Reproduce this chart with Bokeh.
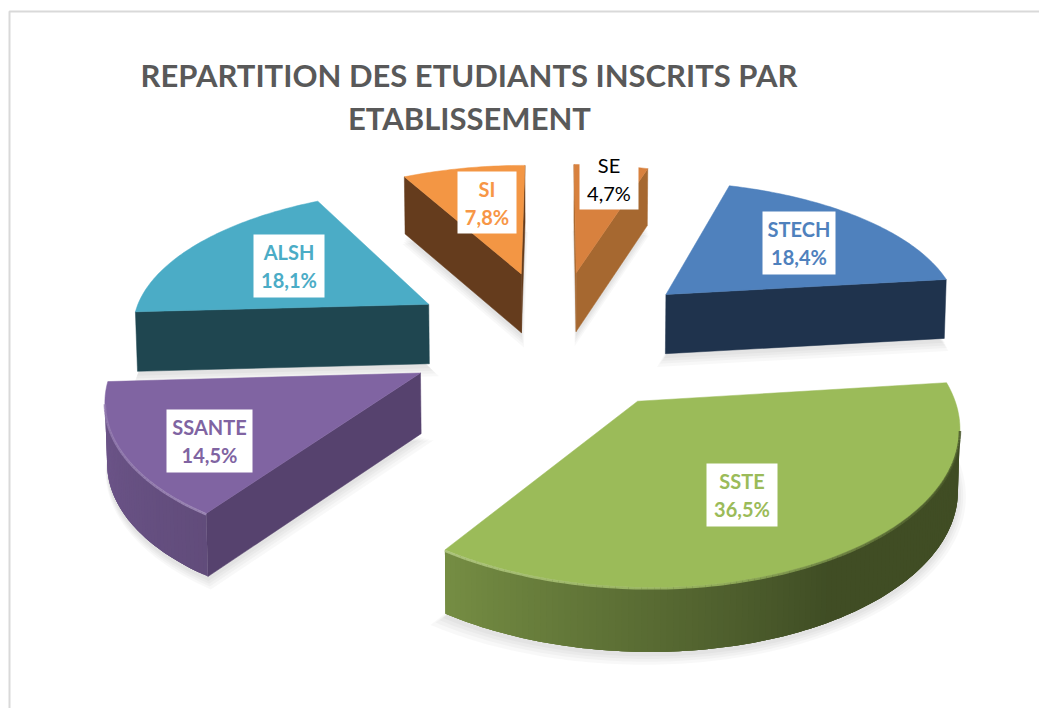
import numpy as np
from bokeh.plotting import figure
from bokeh.models import Range1d
from bokeh.core.properties import value
from bokeh.embed import file_html
from bokeh.resources import INLINE

# ---- data ----
categories = ["SE", "STECH", "SSTE", "SSANTE", "ALSH", "SI"]
percents = [4.7, 18.4, 36.5, 14.5, 18.1, 7.8]
percent_labels = ["4,7%", "18,4%", "36,5%", "14,5%", "18,1%", "7,8%"]
title_lines = ["REPARTITION DES ETUDIANTS INSCRITS PAR", "ETABLISSEMENT"]

# ---- styles ----
top_colors = ["#d8813e", "#4f81bd", "#9bbb59", "#8064a2", "#4bacc6", "#f39644"]
side_colors = ["#a66830", "#1f334d", "#3f4a20", "#56426e", "#1f4650", "#653c1d"]
label_colors = ["#000000", "#4f81bd", "#9bbb59", "#8064a2", "#4bacc6", "#f79646"]
label_styles = ["normal", "bold", "bold", "bold", "bold", "bold"]
paint_order = [5, 0, 1, 4, 3, 2]

# ---- layout (page pixels) ----
W, H = 1039, 708
CX, CY, A, B, K = 555.0, 337.0, 300.0, 140.0, 0.14
EXPLODE = 0.5
label_centers = [(608.5, 178), (798.5, 242.5), (741.5, 494.5), (209, 440.5), (288.5, 265.5), (486.5, 202)]
label_sizes = [(59, 62), (73, 63), (71, 63), (86, 63), (71, 63), (59, 62)]


def project(u, v):
    s = 1.0 / (1.0 + K * v)
    return CX + A * u * s ** 0.92, CY - B * v * s, s


def drop(x, y, s):
    return CX + (x - CX) * 0.995, y + 42 + 18 * s


def hex_rgb(c):
    return np.array([int(c[i:i + 2], 16) for i in (1, 3, 5)], float)


def to_hex(rgb):
    return "#%02x%02x%02x" % tuple(int(round(min(255, max(0, c)))) for c in rgb)


fracs = np.array(percents) / sum(percents)
ends = np.cumsum(fracs) * 360.0
starts = ends - fracs * 360.0

p = figure(width=W, height=H, output_backend="svg", toolbar_location=None,
           x_range=Range1d(0, W), y_range=Range1d(H, 0),
           x_axis_type=None, y_axis_type=None, min_border=0,
           background_fill_color="white", border_fill_color="white", outline_line_color=None)
p.grid.visible = False

# chart frame
p.line([9, 9, W], [H, 11, 11], line_color="#d9d9d9", line_width=2)

slices = []
for i in range(len(categories)):
    t0, t1 = np.radians(starts[i]), np.radians(ends[i])
    m = (t0 + t1) / 2
    ou, ov = EXPLODE * np.sin(m), EXPLODE * np.cos(m)
    n = max(4, int(round(ends[i] - starts[i])))
    ts = np.linspace(t0, t1, n + 1)
    rx, ry, rs = project(ou + np.sin(ts), ov + np.cos(ts))
    ax, ay, a_s = project(ou, ov)
    slices.append(dict(ts=ts, rx=rx, ry=ry, rs=rs, ax=float(ax), ay=float(ay), a_s=float(a_s)))

# soft shadows
for i in paint_order:
    sl = slices[i]
    bx, by = drop(np.r_[sl["ax"], sl["rx"]], np.r_[sl["ay"], sl["ry"]], np.r_[sl["a_s"], sl["rs"]])
    gx, gy = bx.mean(), by.mean()
    for f, off in [(1.045, 10), (1.03, 8), (1.018, 6), (1.008, 4)]:
        p.patch(gx + (bx - gx) * f, gy + (by - gy) * f + off, fill_color="#000000", fill_alpha=0.028, line_color=None)

# slices, far to near
for i in paint_order:
    sl = slices[i]
    top, side = hex_rgb(top_colors[i]), side_colors[i]
    rx, ry, rs, ts = sl["rx"], sl["ry"], sl["rs"], sl["ts"]
    ax, ay, a_s = sl["ax"], sl["ay"], sl["a_s"]
    # walls: only the edges that face the viewer
    for (x0, y0, s0, x1, y1, s1) in [(ax, ay, a_s, rx[0], ry[0], rs[0]), (rx[-1], ry[-1], rs[-1], ax, ay, a_s)]:
        if x1 < x0:
            bx0, by0 = drop(x0, y0, s0)
            bx1, by1 = drop(x1, y1, s1)
            p.patch([x0, x1, bx1, bx0], [y0, y1, by1, by0], fill_color=side, line_color=side, line_width=0.5)
    # curved wall: each strip reaches well under the next one, so no seams show
    vis = [j for j in range(len(ts) - 1) if rx[j + 1] < rx[j]]
    for j in vis:
        k = min(j + 3, vis[-1] + 1)
        idx = np.arange(j, k + 1)
        bx, by = drop(rx[idx], ry[idx], rs[idx])
        deg = np.degrees((ts[j] + ts[j + 1]) / 2)
        f = np.interp(deg, [150, 215, 270], [0.41, 0.76, 0.87])
        c = to_hex(top * f)
        p.patch(np.r_[rx[idx], bx[::-1]], np.r_[ry[idx], by[::-1]], fill_color=c, line_color=None)
    p.patch(np.r_[ax, rx], np.r_[ay, ry], fill_color=top_colors[i], line_color=top_colors[i], line_width=0.5)
    # bevel along the visible rim
    lx, ly, lc = [], [], []
    for j in vis:
        deg = np.degrees((ts[j] + ts[j + 1]) / 2)
        g = np.interp(deg, [125, 170, 215, 270], [0.0, 0.08, 0.3, 0.1])
        d = np.interp(deg, [95, 130, 170], [0.6, 0.45, 0.0])
        c = top * (1 - d) + (255 - top) * g
        lx.append([rx[j], rx[j + 1]])
        ly.append([ry[j] + 1, ry[j + 1] + 1])
        lc.append(to_hex(c))
    if lx:
        p.multi_line(lx, ly, line_color=lc, line_width=2.5, line_alpha=0.8)

# data labels
for i, cat in enumerate(categories):
    (cx, cy), (w, h) = label_centers[i], label_sizes[i]
    p.rect([cx], [cy], width=w, height=h, fill_color="white", line_color=None)
    p.text([cx, cx], [cy - 14, cy + 14], text=[cat, percent_labels[i]], text_color=label_colors[i],
           text_font=value("Lato"), text_font_style=label_styles[i], text_font_size="20px",
           text_align="center", text_baseline="middle")

# title
p.text([468.5, 469], [74, 117], text=title_lines, text_color="#595959", text_font=value("Lato"),
       text_font_style="bold", text_font_size="31px", text_align="center", text_baseline="middle")

open("out.html", "w").write(file_html(p, INLINE))
